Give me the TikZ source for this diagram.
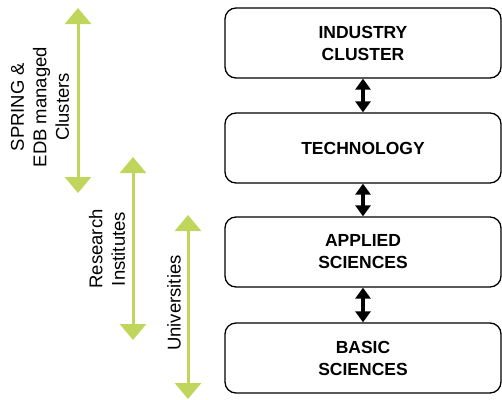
\documentclass[tikz,border=0pt]{standalone}
\usepackage{fontspec}
\setmainfont{Liberation Sans}
\usetikzlibrary{arrows.meta}
\definecolor{lgreen}{RGB}{192,213,92}
\tikzset{
  box/.style={draw=black, line width=1.3pt, rounded corners=11pt, minimum width=276pt, minimum height=70pt, align=center, font=\fontsize{17.5}{22}\selectfont\bfseries, inner sep=0pt},
  link/.style={line width=4pt, {Triangle[width=15pt,length=11pt]}-{Triangle[width=15pt,length=11pt]}},
  garrow/.style={draw=lgreen, line width=3pt, {Triangle[width=26pt,length=16pt]}-{Triangle[width=26pt,length=16pt]}},
  glabel/.style={rotate=90, align=center, font=\fontsize{18.5}{22.5}\selectfont, inner sep=0pt}
}
\begin{document}
\begin{tikzpicture}[x=1pt,y=-1pt]
\useasboundingbox (0,0) rectangle (502,399);
\node[box] (ic) at (363,43) {INDUSTRY\\CLUSTER};
\node[box] (tech) at (363,148) {TECHNOLOGY};
\node[box] (as) at (363,252) {APPLIED\\SCIENCES};
\node[box] (bs) at (363,358) {BASIC\\SCIENCES};
\draw[link] (ic.south) -- (tech.north);
\draw[link] (tech.south) -- (as.north);
\draw[link] (as.south) -- (bs.north);
\coordinate (g1t) at (78,8);
\coordinate (g1b) at (78,193);
\coordinate (g2t) at (133,157);
\coordinate (g2b) at (133,340);
\coordinate (g3t) at (188,215);
\coordinate (g3b) at (188,399);
\draw[garrow] (g1t) -- (g1b);
\draw[garrow] (g2t) -- (g2b);
\draw[garrow] (g3t) -- (g3b);
\node[glabel] (l1) at (40,107) {SPRING \&\\EDB managed\\Clusters};
\node[glabel] (l2) at (107,249) {Research\\Institutes};
\node[glabel] (l3) at (174,303) {Universities};
\end{tikzpicture}
\end{document}
